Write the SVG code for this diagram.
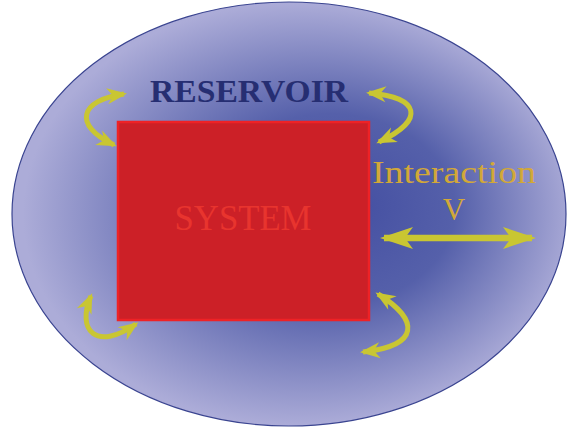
<svg xmlns="http://www.w3.org/2000/svg" width="574" height="429" viewBox="0 0 574 429">
<defs>
<radialGradient id="bg" cx="0.52" cy="0.5" r="0.5" fx="0.62" fy="0.48">
<stop offset="0" stop-color="#4550a2"/>
<stop offset="0.45" stop-color="#5560aa"/>
<stop offset="1" stop-color="#acacd8"/>
</radialGradient>
<marker id="ah" viewBox="-2 -9 24 18" markerWidth="24" markerHeight="18" refX="16" refY="0" orient="auto-start-reverse" markerUnits="userSpaceOnUse">
<path d="M-1,-8 L19,0 L-1,8 L5,0 Z" fill="#c9c632"/>
</marker>
<marker id="ahb" viewBox="-2 -12 36 24" markerWidth="36" markerHeight="24" refX="28" refY="0" orient="auto-start-reverse" markerUnits="userSpaceOnUse">
<path d="M-1,-11 L32,0 L-1,11 L7,0 Z" fill="#c9c632"/>
</marker>
</defs>
<style>
.cv{fill:none;stroke:#c9c632;stroke-width:5;marker-start:url(#ah);marker-end:url(#ah)}
.serif{font-family:"Liberation Serif","DejaVu Serif",serif}
</style>
<g id="reservoir">
<ellipse cx="289" cy="214" rx="277" ry="212" fill="url(#bg)" stroke="#3a4490" stroke-width="1.2"/>
<text class="serif" x="249" y="102" text-anchor="middle" font-size="31" font-weight="bold" fill="#262e72" textLength="198" lengthAdjust="spacingAndGlyphs">RESERVOIR</text>
</g>
<g id="system">
<rect x="118" y="122" width="251" height="198" fill="#cc2027" stroke="#ee2226" stroke-width="2.5"/>
<text class="serif" x="243" y="230" text-anchor="middle" font-size="35" fill="#e8342e" textLength="137" lengthAdjust="spacingAndGlyphs">SYSTEM</text>
</g>
<g id="interaction">
<text class="serif" x="454" y="183" text-anchor="middle" font-size="31" fill="#d2a838" textLength="164" lengthAdjust="spacingAndGlyphs">Interaction</text>
<text class="serif" x="454" y="220" text-anchor="middle" font-size="31" fill="#d2a838">V</text>
</g>
<g id="connectors">
<path class="cv" d="M124 94 C80 100 72 125 114 145"/>
<path class="cv" d="M369 93 C420 97 426 120 379 142"/>
<path class="cv" d="M91 296 C76 330 96 352 136 324"/>
<path class="cv" d="M378 294 C420 320 420 346 363 352"/>
<path d="M384 238 L532 238" fill="none" stroke="#c9c632" stroke-width="6.5" marker-start="url(#ahb)" marker-end="url(#ahb)"/>
</g>
</svg>
